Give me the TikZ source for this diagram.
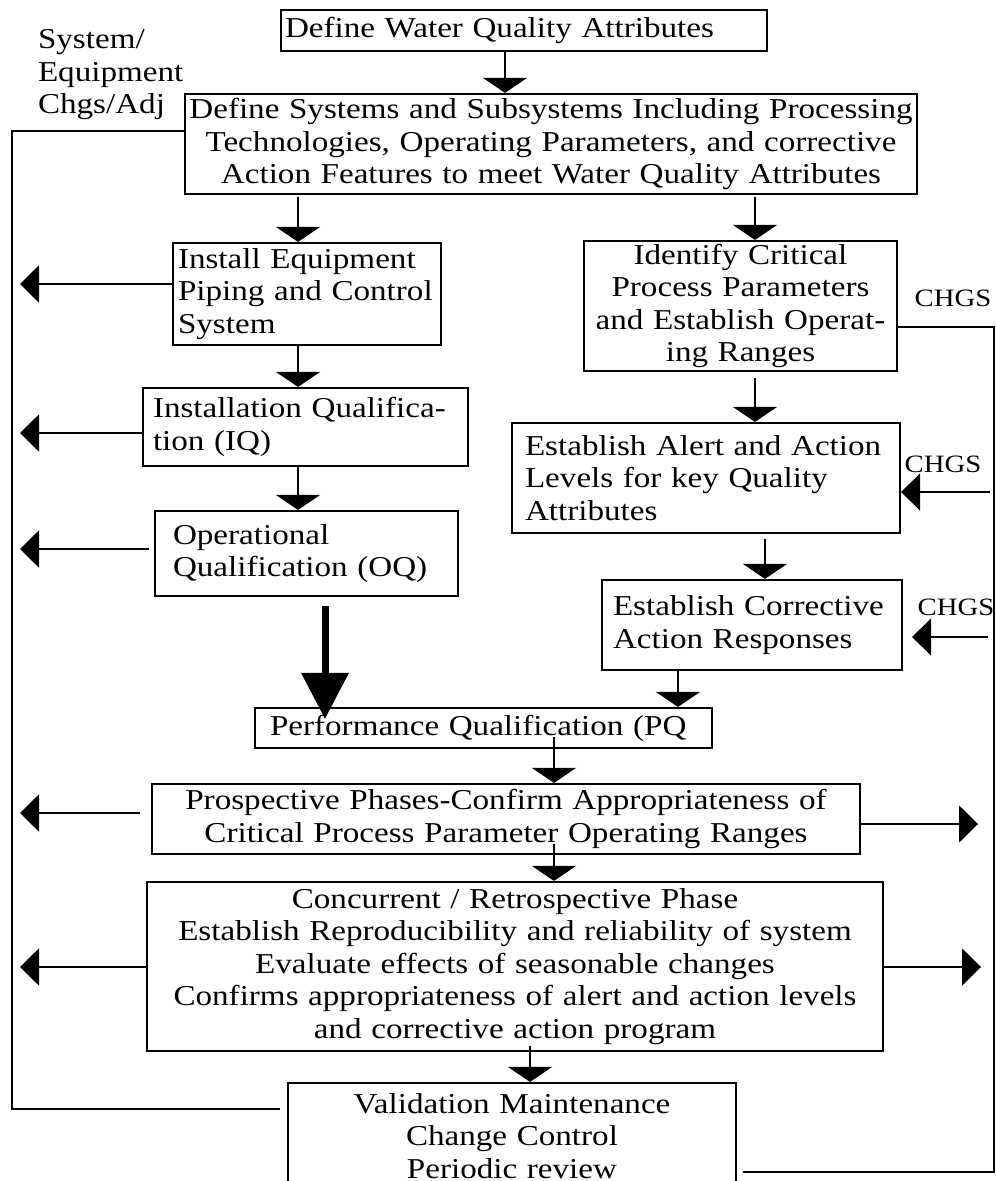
\documentclass[tikz,border=0pt]{standalone}
\usepackage{fontspec}
\setmainfont{Liberation Serif}[FakeStretch=1.15]
\usetikzlibrary{positioning,arrows.meta}

\begin{document}
\begin{tikzpicture}[x=1pt, y=-1pt, line width=2pt,
				every node/.append style={font=\fontsize{28.8}{32.5}\selectfont, inner ysep=0pt},
				stepbox/.style={draw, line width=2.2pt, align=left},
				midbox/.style={stepbox, align=center},
				downarr/.style={-{Triangle[width=44pt,length=15pt]}},
				sidearr/.style={-{Triangle[width=37pt,length=19pt]}},
				bigarr/.style={line width=7pt, -{Triangle[width=46pt,length=46pt]}}]
				\useasboundingbox (0,0) rectangle (996,1181);
				\clip (0,0) rectangle (996,1181);
				\coordinate (lbus) at (20,0);
				\coordinate (rbus) at (994,0);

				\node (wqa) [stepbox, inner xsep=4pt, text width=478pt, minimum height=41pt] at (524,30.5) {Define Water Quality Attributes};
				\node (sys) [midbox, inner xsep=4pt, text width=724pt, minimum height=100pt] at (551,144) {Define Systems and Subsystems Including Processing\\Technologies, Operating Parameters, and corrective\\Action Features to meet Water Quality Attributes};
				\node (inst) [stepbox, inner xsep=5pt, text width=258pt, minimum height=102pt] at (307,294) {Install Equipment\\Piping and Control\\System};
				\node (crit) [midbox, inner xsep=4pt, text width=305pt, minimum height=130pt] at (740.5,306) {Identify Critical\\Process Parameters\\and Establish Operat-\\ing Ranges};
				\node (iq) [stepbox, inner xsep=10pt, text width=305pt, minimum height=78pt] at (305.5,427) {Installation Qualifica-\\tion (IQ)};
				\node (alert) [stepbox, inner xsep=13pt, text width=362pt, minimum height=110pt] at (706,478) {Establish Alert and Action\\Levels for key Quality\\Attributes};
				\node (oq) [stepbox, inner xsep=18pt, text width=267pt, minimum height=85pt] at (306.5,553.5) {Operational\\Qualification (OQ)};
				\node (corr) [stepbox, inner xsep=11pt, text width=278pt, minimum height=90pt] at (752,625) {Establish Corrective\\Action Responses};
				\node (pq) [stepbox, inner xsep=15pt, text width=427pt, minimum height=40pt] at (483.5,728) {Performance Qualification (PQ};
				\node (prosp) [midbox, inner xsep=4pt, text width=700pt, minimum height=70pt] at (506,819) {Prospective Phases-Confirm Appropriateness of\\Critical Process Parameter Operating Ranges};
				\node (conc) [midbox, inner xsep=4pt, text width=728pt, minimum height=169pt] at (515,966.5) {Concurrent / Retrospective Phase\\Establish Reproducibility and reliability of system\\Evaluate effects of seasonable changes\\Confirms appropriateness of alert and action levels\\and corrective action program};
				\node (maint) [midbox, inner xsep=4pt, text width=440pt, minimum height=106pt] at (512,1136) {Validation Maintenance\\Change Control\\Periodic review};

				\node (adj) [align=left, anchor=west, inner sep=0pt] at (37,75) {System/\\Equipment\\Chgs/Adj};
				\node (chgs1) [font=\fontsize{25}{28}\selectfont] at (953,298) {CHGS};
				\node (chgs2) [font=\fontsize{25}{28}\selectfont] at (943,464) {CHGS};
				\node (chgs3) [font=\fontsize{25}{28}\selectfont] at (956,607) {CHGS};

				\foreach \a/\b/\x/\g in {wqa/sys/505/0, sys/inst/298/2, sys/crit/755/2, inst/iq/298/0, crit/alert/755/6, iq/oq/298/0,
						alert/corr/765/5, corr/pq/678/0, pq/prosp/554/-12, prosp/conc/554/-11, conc/maint/530/-6}
					\draw[downarr, shorten <=\g pt] (\a.south -| \x,0) -- (\b.north -| \x,0);
				\draw[bigarr, shorten <=9pt, shorten >=-12pt] (oq.south -| 325,0) -- (pq.north -| 325,0);

				\foreach \b/\y/\g in {inst/284/0, iq/433/0, oq/549/5, prosp/813/11, conc/967/0}
					\draw[sidearr, shorten <=\g pt] (\b.west |- 0,\y) -- (lbus |- 0,\y);
				\foreach \b/\y/\x in {prosp/824/978, conc/967/981}
					\draw[sidearr] (\b.east |- 0,\y) -- (\x,\y);

				\draw[shorten >=7pt] (sys.west |- 0,131) -- (12,131) -- (12,1109) -- (maint.west |- 0,1109);
				\draw[shorten >=6pt] (crit.east |- 0,327) -- (rbus |- 0,327) -- (rbus |- 0,1172) -- (maint.east |- 0,1172);
				\draw[sidearr, shorten <=4pt] (rbus |- 0,492) -- (alert.east |- 0,492);
				\draw[sidearr, shorten <=6pt, shorten >=9pt] (rbus |- 0,637) -- (corr.east |- 0,637);
\end{tikzpicture}
\end{document}
